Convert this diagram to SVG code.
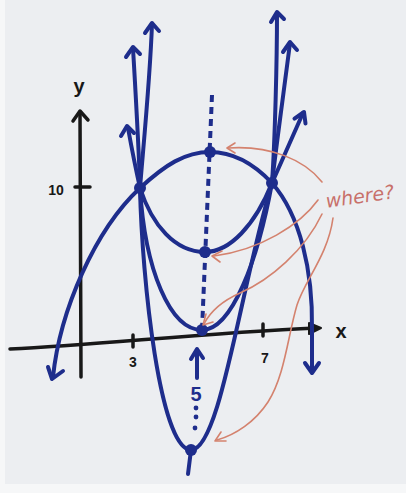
<svg xmlns="http://www.w3.org/2000/svg" width="406" height="493" viewBox="0 0 406 493">
<style>
.bg{fill:#eceef1}
.axis{fill:none;stroke:#181818;stroke-width:3.5;stroke-linecap:round;stroke-linejoin:round}
.curve{fill:none;stroke:#1e2d8c;stroke-width:4;stroke-linecap:round;stroke-linejoin:round}
.dash{fill:none;stroke:#1e2d8c;stroke-width:4;stroke-dasharray:7 5}
.dot{fill:#1e2d8c}
.red{fill:none;stroke:#d4826e;stroke-width:1.6;stroke-linecap:round;stroke-linejoin:round}
.lbl{font-family:"Liberation Sans",Arial,sans-serif;font-weight:bold;fill:#181818;text-anchor:middle}
.blbl{font-family:"Liberation Sans",Arial,sans-serif;font-weight:bold;fill:#1e2d8c;text-anchor:middle}
.where{font-family:"DejaVu Sans","Liberation Sans",sans-serif;font-style:italic;fill:#c8706a;font-size:19px;text-anchor:middle}
</style>
<rect class="bg" x="0" y="0" width="406" height="493"/>
<rect x="0" y="0" width="5" height="493" fill="#f6f7f8"/>
<rect x="0" y="484" width="406" height="9" fill="#f6f7f8"/>

<g id="axes">
  <path class="axis" d="M10,349 C100,345 200,333 317,328"/>
  <path d="M309,323 L321,328 L309,334 Z" fill="#181818" stroke="#181818" stroke-width="2" stroke-linejoin="round"/>
  <path class="axis" d="M81,377 L80,112"/>
  <path class="axis" d="M73,121 L80,111 L88,120"/>
  <path class="axis" d="M75,187 L90,187"/>
  <path class="axis" d="M133,335 L133,347"/>
  <path class="axis" d="M263,324 L263,336"/>
  <text class="lbl" x="79" y="93" font-size="20">y</text>
  <text class="lbl" x="341" y="338" font-size="20">x</text>
  <text class="lbl" x="56" y="195" font-size="14">10</text>
  <text class="lbl" x="133" y="367" font-size="14">3</text>
  <text class="lbl" x="265" y="363" font-size="14">7</text>
</g>

<g id="curve-down">
  <path class="curve" d="M53,377 C60,310 95,230 140,188 C165,165 185,152 210,152 C235,152 255,165 272,183 C300,215 313,270 312,330 L312,371"/>
  <path class="curve" d="M48,367 L52,379 L63,371"/>
  <path class="curve" d="M305,363 L312,373 L319,363"/>
</g>

<g id="curve-middle">
  <path class="curve" d="M128,128 C132,150 136,170 140,188 C152,225 175,252 205,252 C230,252 255,225 272,183 L303,113"/>
  <path class="curve" d="M121,136 L127,126 L134,133"/>
  <path class="curve" d="M294.5,118.6 L304,112 L305.5,123.4"/>
</g>

<g id="curve-axis">
  <path class="curve" d="M133,48 C136,100 139,150 140,188 C145,270 170,330 202,330 C232,330 258,260 272,183 C277,140 284,90 290,43"/>
  <path class="curve" d="M126,57 L133,47 L140,54"/>
  <path class="curve" d="M283,52 L290,42 L297,50"/>
</g>

<g id="curve-narrow">
  <path class="curve" d="M152,24 C150,80 143,150 140,188 C142,280 160,450 191,450 C220,450 240,290 272,183 C275,140 277,60 277,14"/>
  <path class="curve" d="M145,33 L152,23 L159,31"/>
  <path class="curve" d="M271,22 L277,12 L284,19"/>
  <path class="curve" d="M191,450 L188,474"/>
</g>

<g id="symmetry">
  <path class="dash" d="M212,95 L202,330"/>
  <path class="curve" d="M197,378 L197,351"/>
  <path class="curve" d="M191,359 L197,349 L203,358"/>
  <text class="blbl" x="196" y="401" font-size="20">5</text>
  <circle class="dot" cx="196" cy="408" r="2.4"/>
  <circle class="dot" cx="196" cy="417" r="2.4"/>
  <circle class="dot" cx="195" cy="428" r="2.4"/>
</g>

<g id="points">
  <circle class="dot" cx="140" cy="188" r="6"/>
  <circle class="dot" cx="272" cy="183" r="6"/>
  <circle class="dot" cx="210" cy="152" r="6"/>
  <circle class="dot" cx="205" cy="252" r="6"/>
  <circle class="dot" cx="202" cy="330" r="6"/>
  <circle class="dot" cx="191" cy="450" r="6"/>
</g>

<g id="where">
  <text class="where" x="360" y="203" transform="rotate(-8 360 197)">where?</text>
</g>

<g id="connectors">
  <path class="red" d="M322,182 C305,160 270,145 228,148"/>
  <path class="red" d="M235,143 L227,148 L235,153"/>
  <path class="red" d="M318,200 C300,225 260,250 214,256"/>
  <path class="red" d="M222,251 L212,256 L220,262"/>
  <path class="red" d="M322,214 C305,250 270,280 240,293 C220,302 210,312 204,324"/>
  <path class="red" d="M206,314 L203,325 L213,322"/>
  <path class="red" d="M333,218 C328,255 305,280 297,305 C288,335 285,375 268,402 C255,422 235,435 217,440"/>
  <path class="red" d="M221,432 L215,441 L226,441"/>
</g>
</svg>
